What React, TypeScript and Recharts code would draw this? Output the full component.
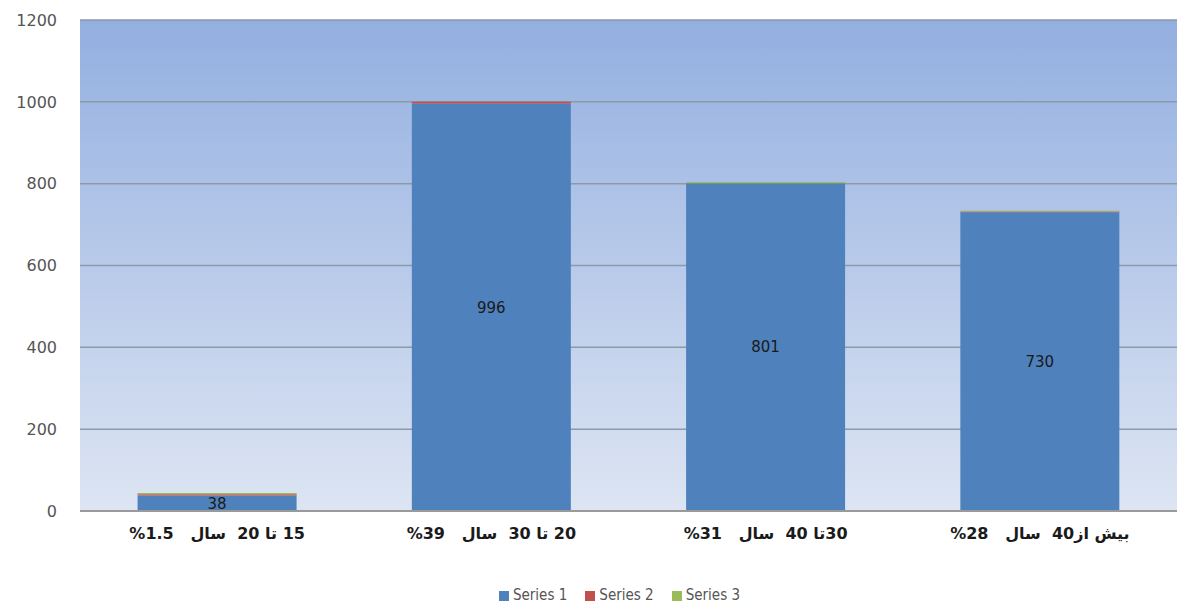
import { Bar, BarChart, CartesianGrid, LabelList, Legend, XAxis, YAxis } from "recharts";

// the percentages are isolated so they show as "%1.5" like in the original
const categories = [
    "15 تا 20  سال   \u2066%1.5\u2069",
    "20 تا 30  سال   \u2066%39\u2069",
    "30تا 40  سال   \u2066%31\u2069",
    "بیش از40  سال   \u2066%28\u2069",
];
const series1 = [38, 996, 801, 730];
const series2 = [3, 4, 0, 2];
const series3 = [3, 0, 3, 2];
const yTicks = [0, 200, 400, 600, 800, 1000, 1200];

const data = categories.map((name, i) => ({
    name,
    s1: series1[i],
    s2: series2[i],
    s3: series3[i],
}));

const XTick = (props: any) => {
    const { x, y, payload } = props;
    return (
        <text
            x={x}
            y={y + 20}
            textAnchor="middle"
            direction="rtl"
            fontFamily="DejaVu Sans, sans-serif"
            fontWeight="bold"
            fontSize={16}
            fill="#1a1a1a"
            style={{ whiteSpace: "pre" }}
        >
            {payload.value}
        </text>
    );
};

export default function App() {
    return (
        <div style={{ position: "absolute", left: 0, top: 0, background: "#fff" }}>
            <BarChart
                width={1177}
                height={610}
                data={data}
                margin={{ top: 20, right: 0, bottom: 0, left: 0 }}
                barCategoryGap="21%"
            >
                <defs>
                    <linearGradient id="plotBg" x1="0" y1="0" x2="0" y2="1">
                        <stop offset="0%" stopColor="#93afe0" />
                        <stop offset="100%" stopColor="#dde5f3" />
                    </linearGradient>
                </defs>
                <CartesianGrid
                    vertical={false}
                    fill="url(#plotBg)"
                    stroke="#8e99a8"
                    strokeWidth={1.5}
                />
                <XAxis
                    dataKey="name"
                    height={69}
                    tick={<XTick />}
                    tickLine={false}
                    axisLine={{ stroke: "#9a9a9a", strokeWidth: 2 }}
                    interval={0}
                />
                <YAxis
                    width={80}
                    domain={[0, 1200]}
                    ticks={yTicks}
                    tickLine={false}
                    axisLine={false}
                    tickMargin={17}
                    tick={{ fill: "#555", fontSize: 16, fontFamily: "DejaVu Sans, sans-serif" }}
                />
                <Legend
                    verticalAlign="bottom"
                    height={30}
                    iconType="square"
                    iconSize={10}
                    wrapperStyle={{ paddingLeft: 40, bottom: -6 }}
                    formatter={(v: string) => <span style={{ color: "#555", fontSize: 15, fontFamily: "DejaVu Sans Condensed, sans-serif", marginRight: 8 }}>{v}</span>}
                />
                <Bar dataKey="s1" name="Series 1" stackId="a" fill="#4f81bd" isAnimationActive={false}>
                    <LabelList
                        dataKey="s1"
                        position="center"
                        fill="#1a1a1a"
                        fontSize={15}
                        fontFamily="DejaVu Sans, sans-serif"
                    />
                </Bar>
                <Bar dataKey="s2" name="Series 2" stackId="a" fill="#c0504d" isAnimationActive={false} />
                <Bar dataKey="s3" name="Series 3" stackId="a" fill="#9bbb59" isAnimationActive={false} />
            </BarChart>
        </div>
    );
}
